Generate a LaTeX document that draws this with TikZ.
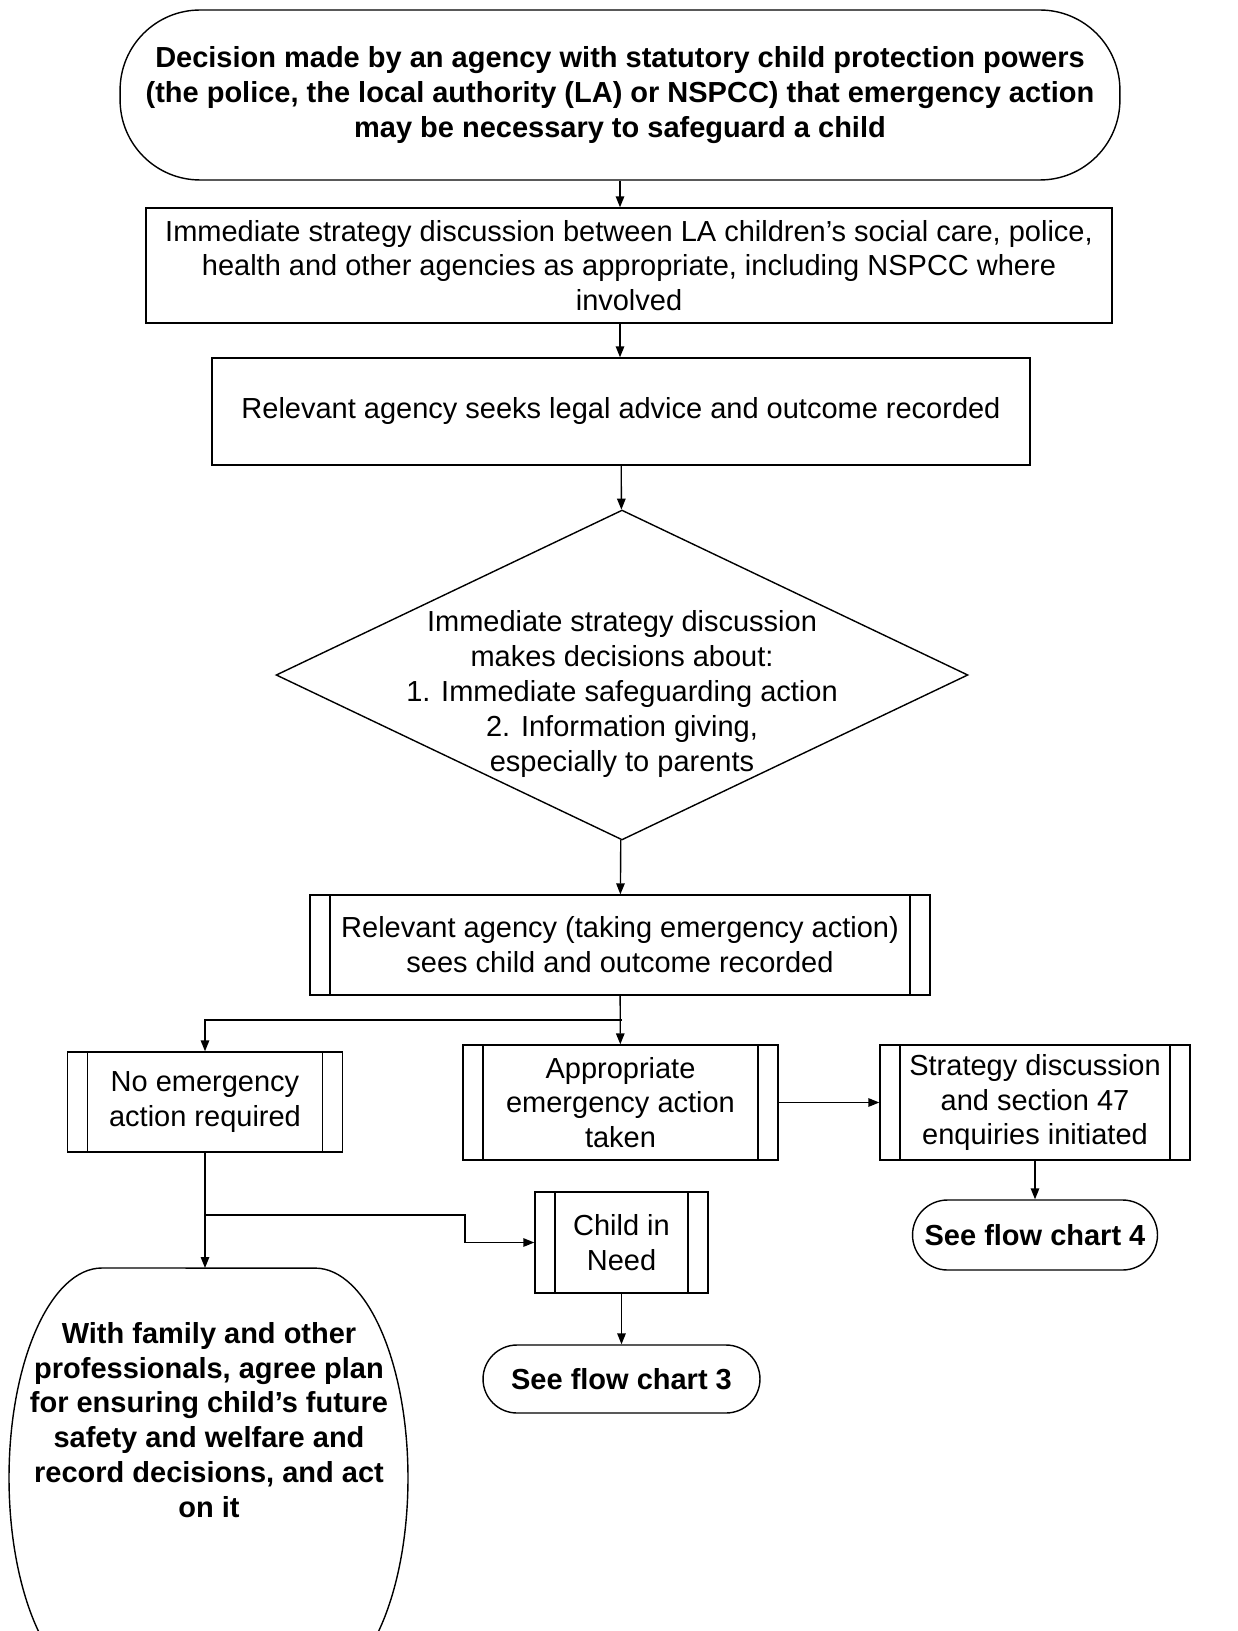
\documentclass[tikz,border=0pt]{standalone}
\usepackage{fontspec}
\setmainfont{Liberation Sans}
\usetikzlibrary{shapes.geometric,arrows.meta}

\begin{document}
\begin{tikzpicture}[x=0.02cm,y=-0.02cm,line width=0.8pt,
    every node/.style={font=\fontsize{16.5}{19.8}\selectfont,align=center,inner sep=0pt},
    bold/.style={font=\fontsize{16.5}{19.8}\selectfont\bfseries},
    terminal/.style={draw,rectangle,rounded corners=#1},
    process/.style={draw,rectangle},
    subproc/.style={draw,rectangle,path picture={
        \draw ([xshift=0.4cm]path picture bounding box.north west) -- ([xshift=0.4cm]path picture bounding box.south west);
        \draw ([xshift=-0.4cm]path picture bounding box.north east) -- ([xshift=-0.4cm]path picture bounding box.south east);}},
    decision/.style={draw,diamond,minimum width=13.84cm,minimum height=6.6cm},
    arr/.style={-{Triangle[length=0.22cm,width=0.17cm]}}]
  \useasboundingbox (0,0) rectangle (1237,1631);
  \clip (0,0) rectangle (1237,1631);

  % main column
  \node[terminal=1.6cm,bold,minimum width=20cm,minimum height=3.4cm] (start) at (620,95)
    {Decision made by an agency with statutory child protection powers\\
     (the police, the local authority (LA) or NSPCC) that emergency action\\
     may be necessary to safeguard a child};
  \node[process,minimum width=19.32cm,minimum height=2.3cm] (discuss) at (629,265.5)
    {Immediate strategy discussion between LA children's social care, police,\\
     health and other agencies as appropriate, including NSPCC where\\
     involved};
  \node[process,minimum width=16.36cm,minimum height=2.14cm] (legal) at (621,411.5)
    {Relevant agency seeks legal advice and outcome recorded};
  \node[decision] (decide) at (622,675) {};
  \node (decidetext) at (622,694)
    {Immediate strategy discussion\\ makes decisions about:\\
     1. Immediate safeguarding action\\ 2. Information giving,\\ especially to parents};
  \node[subproc,minimum width=12.4cm,minimum height=2cm] (sees) at (620,945)
    {Relevant agency (taking emergency action)\\ sees child and outcome recorded};

  % outcomes
  \node[subproc,minimum width=5.5cm,minimum height=2cm] (noaction) at (205,1102)
    {No emergency\\ action required};
  \node[subproc,minimum width=6.3cm,minimum height=2.3cm] (taken) at (620.5,1102.5)
    {Appropriate\\ emergency action\\ taken};
  \node[subproc,minimum width=6.2cm,minimum height=2.3cm] (strategy) at (1035,1102.5)
    {Strategy discussion\\ and section 47\\ enquiries initiated};
  \node[terminal=0.7cm,bold,minimum width=4.9cm,minimum height=1.4cm] (fc4) at (1035,1235)
    {See flow chart 4};
  \node[subproc,minimum width=3.46cm,minimum height=2.02cm] (child) at (621.5,1242.5)
    {Child in\\ Need};
  \node[terminal=0.68cm,bold,minimum width=5.54cm,minimum height=1.36cm] (fc3) at (621.5,1379)
    {See flow chart 3};
  \node[bold] (plan) at (209,1420)
    {With family and other\\ professionals, agree plan\\ for ensuring child's future\\
     safety and welfare and\\ record decisions, and act\\ on it};
  \draw (102,1268) arc[start angle=90,end angle=270,x radius=1.86cm,y radius=4.2cm]
    -- (315,1688) arc[start angle=270,end angle=450,x radius=1.86cm,y radius=4.2cm] -- cycle;

  \coordinate (split1) at (622,1020);
  \coordinate (split2) at (205,1215);
  \coordinate (bend) at (465,1215);
  \coordinate (plantop) at (205,1268);

  % connectors
  \draw[arr] (start.south) -- (start.south |- discuss.north);
  \draw[arr] (start.south |- discuss.south) -- (start.south |- legal.north);
  \draw[arr] (legal) -- (decide);
  \draw[arr] (decide) -- (sees);
  \draw[arr] (sees) -- (taken);
  \draw[arr] (split1) -| (noaction);
  \draw[arr] (taken) -- (strategy);
  \draw[arr] (strategy) -- (fc4);
  \draw[arr] (noaction) -- (plantop);
  \draw[arr] (split2) -- (bend) |- (child.west);
  \draw[arr] (child) -- (fc3);
\end{tikzpicture}
\end{document}
